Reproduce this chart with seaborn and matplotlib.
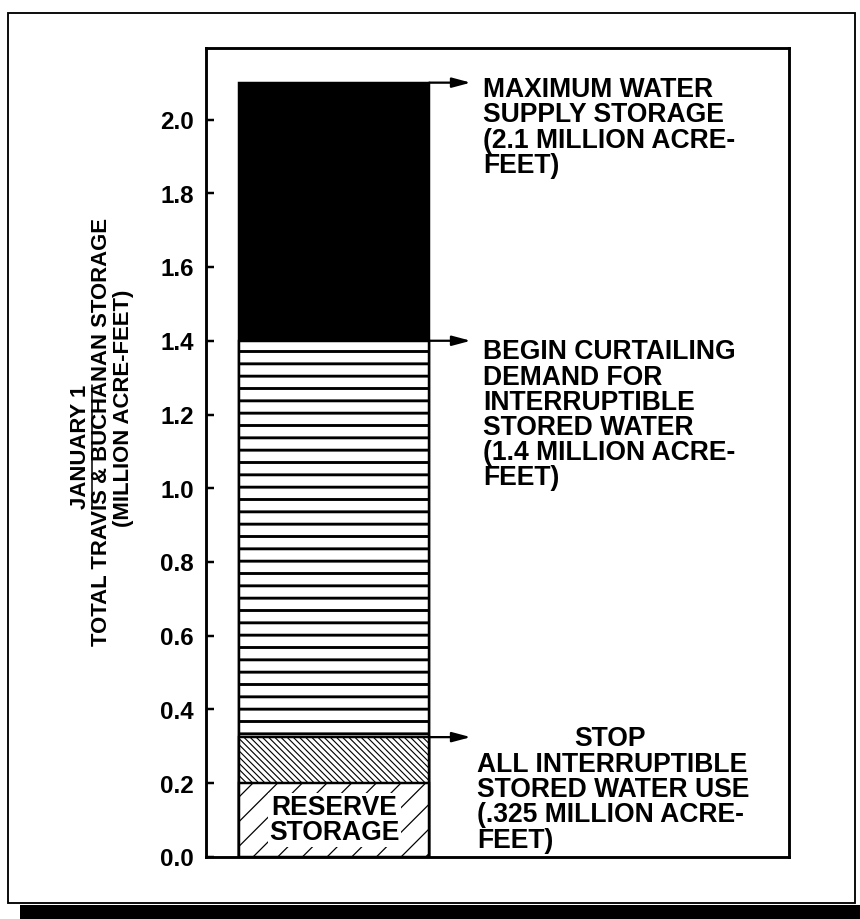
import matplotlib
matplotlib.use("Agg")
import matplotlib.pyplot as plt
from matplotlib.lines import Line2D
from matplotlib.patches import Rectangle
import pandas as pd
import seaborn as sns

# Storage bands, listed from the full pool downward (million acre-feet)
bands = ["Maximum water supply storage", "Curtail interruptible demand",
         "Stop interruptible use", "Reserve storage"]
band_tops = [2.1, 1.4, 0.325, 0.2]
band_faces = ["black", "white", "white", "white"]
band_hatches = ["", "-", "\\\\\\\\", "/"]
band_hatch_widths = [1.0, 2.8, 1.1, 1.2]

yticks = [0.0, 0.2, 0.4, 0.6, 0.8, 1.0, 1.2, 1.4, 1.6, 1.8, 2.0]
ytick_labels = ["0.0", "0.2", "0.4", "0.6", "0.8", "1.0", "1.2", "1.4", "1.6", "1.8", "2.0"]

ylabel_lines = ["JANUARY 1", "TOTAL TRAVIS & BUCHANAN STORAGE", "(MILLION ACRE-FEET)"]

note_levels = [2.1, 1.4, 0.325]
note_texts = ["MAXIMUM WATER\nSUPPLY STORAGE\n(2.1 MILLION ACRE-\nFEET)",
              "BEGIN CURTAILING\nDEMAND FOR\nINTERRUPTIBLE\nSTORED WATER\n(1.4 MILLION ACRE-\nFEET)",
              "ALL INTERRUPTIBLE\nSTORED WATER USE\n(.325 MILLION ACRE-\nFEET)"]
stop_heading = "STOP"
reserve_label = "RESERVE\nSTORAGE"

sns.set_theme(style="white")
plt.rcParams["font.family"] = ["Liberation Sans", "DejaVu Sans"]
plt.rcParams["font.weight"] = "bold"
plt.rcParams["hatch.linewidth"] = 1.2
plt.rcParams["hatch.color"] = "black"

W, H, DPI = 860, 919, 74
fig = plt.figure(figsize=((W + 0.4) / DPI, (H + 0.4) / DPI), dpi=DPI)
fig.patch.set_facecolor("white")

def px_to_fig(x, y):
    return x / W, 1 - y / H

ax = fig.add_axes([206 / W, 1 - 857 / H, 583 / W, 809 / H])
ax.set_facecolor("white")

df = pd.DataFrame({"column": ["storage"] * len(bands), "band": bands, "top": band_tops})
sns.barplot(data=df, x="column", y="top", hue="band", hue_order=bands,
            palette=dict(zip(bands, band_faces)), dodge=False, width=0.8,
            saturation=1, edgecolor="black", linewidth=2.4, legend=False,
            errorbar=None, ax=ax)

bar_right = 0.4
for p in ax.patches:
    h = round(p.get_height(), 3)
    if h in band_tops:
        i = band_tops.index(h)
        p.set_zorder(2 + i)
        p.set_hatch(band_hatches[i])
        p.set_edgecolor("black")
        if hasattr(p, "set_hatch_linewidth"):
            p.set_hatch_linewidth(band_hatch_widths[i])
        bar_right = p.get_x() + p.get_width()

ax.set_xlim(-0.539, 1.916)
ax.set_ylim(0, 2.195)
ax.set_yticks(yticks)
ax.set_yticklabels(ytick_labels, fontsize=23.5, fontweight="bold")
ax.tick_params(axis="y", direction="in", length=7.8, width=2.4, pad=12.0,
               left=True, colors="black")
ax.tick_params(axis="x", bottom=False, labelbottom=False)
ax.set_xlabel("")
ax.set_ylabel("")
for s in ax.spines.values():
    s.set_visible(True)
    s.set_linewidth(2.8)
    s.set_color("black")

# arrows from the bar edge toward each note
arrow_tip = 0.575
for lvl in note_levels:
    ax.annotate("", xy=(arrow_tip, lvl), xytext=(bar_right, lvl),
                arrowprops=dict(arrowstyle="-|>,head_length=0.75,head_width=0.2",
                                color="black", lw=2.2, shrinkA=0, shrinkB=0,
                                mutation_scale=20),
                zorder=10)

note_fs = 25.8
note_pos = [(0.627, 2.116), (0.627, 1.405), (0.602, 0.286)]
for txt, (x, y) in zip(note_texts, note_pos):
    ax.text(x, y, txt, ha="left", va="top", fontsize=note_fs, fontweight="bold",
            linespacing=0.96, color="black")
ax.text(1.162, 0.355, stop_heading, ha="center", va="top", fontsize=note_fs,
        fontweight="bold", color="black")

ax.text(0.0, 0.10, reserve_label, ha="center", va="center", fontsize=note_fs,
        fontweight="bold", linespacing=0.95, color="black", zorder=12,
        bbox=dict(boxstyle="square,pad=0.05", fc="white", ec="none"))

# three-line vertical axis title
label_pos = [(80, 447), (101, 432), (123, 408)]
label_artists = []
for line, (x, y) in zip(ylabel_lines, label_pos):
    fx, fy = px_to_fig(x, y)
    label_artists.append(fig.text(fx, fy, line, rotation=90, ha="center", va="center",
                                  fontsize=21.5, fontweight="bold", color="black"))

# underline beneath the date line
fig.canvas.draw()
bb = label_artists[0].get_window_extent(fig.canvas.get_renderer())
ux = (bb.x1 + 1.0) / fig.bbox.width
fig.add_artist(Line2D([ux, ux], [bb.y0 / fig.bbox.height, bb.y1 / fig.bbox.height],
                      transform=fig.transFigure, color="black", lw=1.5))

# outer border and drop shadow
x0, y0 = px_to_fig(8, 903)
x1, y1 = px_to_fig(855, 13)
fig.add_artist(Rectangle((x0, y0), x1 - x0, y1 - y0, transform=fig.transFigure,
                         fill=False, ec="black", lw=1.8))
sx0, sy0 = px_to_fig(20, 919)
sx1, sy1 = px_to_fig(860, 905)
fig.add_artist(Rectangle((sx0, sy0), sx1 - sx0, sy1 - sy0, transform=fig.transFigure,
                         fc="black", ec="none"))

fig.savefig("out.png", dpi=DPI, facecolor="white")
